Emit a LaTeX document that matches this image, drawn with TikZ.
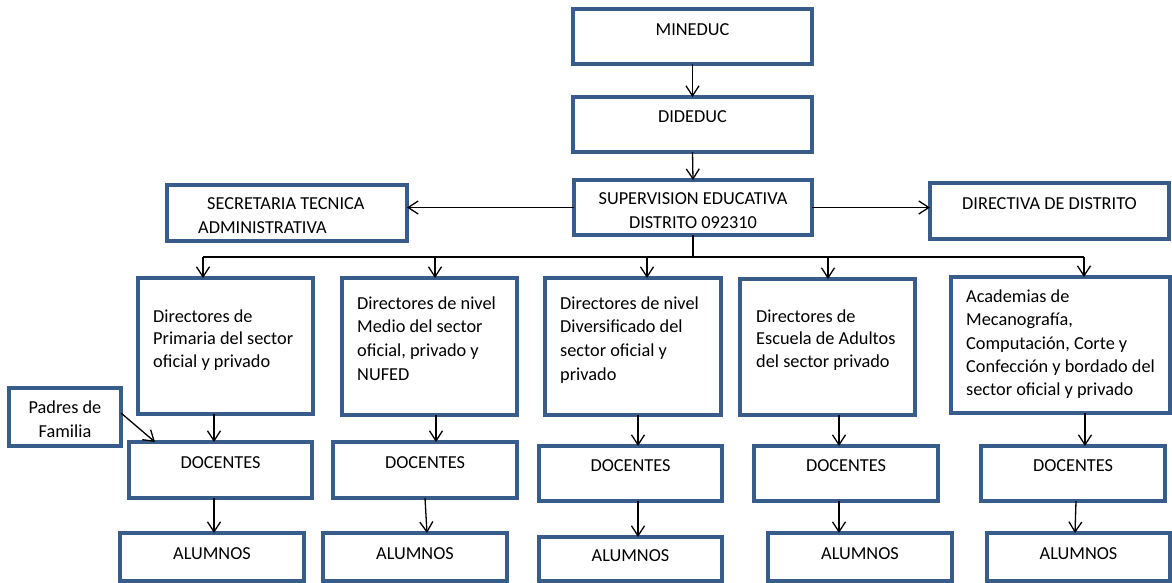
\documentclass[tikz,border=0pt]{standalone}
\usepackage{fontspec}
\setmainfont{Carlito}
\usetikzlibrary{arrows.meta}
\definecolor{boxblue}{RGB}{56,93,138}
\newcommand\mkbox[5]{\node[box,anchor=north west,minimum width={(#4)-(#2)},minimum height={(#5)-(#3)}] (#1) at (#2,#3) {};}
\begin{document}
\begin{tikzpicture}[x=1pt,y=-1pt,
  box/.style={draw=boxblue, line width=3.2pt, fill=white, inner sep=0pt, outer sep=0pt},
  txt/.style={inner sep=0pt, font=\fontsize{18.3}{23.3}\selectfont},
  arr/.style={draw=black, line width=1.3pt, -{Straight Barb[length=10pt,width=13pt]}},
  conn/.style={draw=black, line width=1.3pt}]
\useasboundingbox[fill=white] (0,0) rectangle (1172,582);

% boxes
\mkbox{mineduc}{573}{9}{812}{64}
\mkbox{dideduc}{573}{97}{812}{152}
\mkbox{sup}{574}{180}{812}{235}
\mkbox{sec}{167}{185}{407}{241}
\mkbox{dir}{930}{183}{1169}{239}
\mkbox{b1}{138}{278}{313}{414}
\mkbox{b2}{342}{278}{517}{415}
\mkbox{b3}{545}{278}{721}{415}
\mkbox{b4}{740}{279}{915}{415}
\mkbox{b5}{951}{277}{1170}{413}
\mkbox{padres}{9}{388}{121}{446}
\mkbox{doc1}{129}{442}{312}{498}
\mkbox{doc2}{333}{442}{517}{498}
\mkbox{doc3}{539}{446}{722}{501}
\mkbox{doc4}{754}{446}{938}{501}
\mkbox{doc5}{981}{446}{1165}{501}
\mkbox{alu1}{120}{533}{304}{581}
\mkbox{alu2}{323}{533}{507}{581}
\mkbox{alu3}{539}{537}{722}{581}
\mkbox{alu4}{768}{533}{952}{581}
\mkbox{alu5}{987}{533}{1170}{581}

% texts
\node[txt,anchor=base] (t-min) at (692.5,35) {MINEDUC};
\node[txt,anchor=base] (t-did) at (692.5,122) {DIDEDUC};
\node[txt,anchor=base] (t-sup1) at (693,204) {SUPERVISION EDUCATIVA};
\node[txt,anchor=base] (t-sup2) at (693,228) {DISTRITO 092310};
\node[txt,anchor=base west] (t-sec1) at (207,209) {SECRETARIA TECNICA};
\node[txt,anchor=base west] (t-sec2) at (198,233) {ADMINISTRATIVA};
\node[txt,anchor=base] (t-dir) at (1049.5,209) {DIRECTIVA DE DISTRITO};

\node[txt,anchor=base west] (t-b1a) at (153,322) {Directores de};
\node[txt,anchor=base west] (t-b1b) at (153,344) {Primaria del sector};
\node[txt,anchor=base west] (t-b1c) at (153,367) {oficial y privado};

\node[txt,anchor=base west] (t-b2a) at (357,309) {Directores de nivel};
\node[txt,anchor=base west] (t-b2b) at (357,332) {Medio del sector};
\node[txt,anchor=base west] (t-b2c) at (357,356) {oficial, privado y};
\node[txt,anchor=base west] (t-b2d) at (357,380) {NUFED};

\node[txt,anchor=base west] (t-b3a) at (560,309) {Directores de nivel};
\node[txt,anchor=base west] (t-b3b) at (560,332) {Diversificado del};
\node[txt,anchor=base west] (t-b3c) at (560,356) {sector oficial y};
\node[txt,anchor=base west] (t-b3d) at (560,380) {privado};

\node[txt,anchor=base west] (t-b4a) at (756,322) {Directores de};
\node[txt,anchor=base west] (t-b4b) at (756,344) {Escuela de Adultos};
\node[txt,anchor=base west] (t-b4c) at (756,367) {del sector privado};

\node[txt,anchor=base west] (t-b5a) at (966,302) {Academias de};
\node[txt,anchor=base west] (t-b5b) at (966,325) {Mecanografía,};
\node[txt,anchor=base west] (t-b5c) at (966,349) {Computación, Corte y};
\node[txt,anchor=base west] (t-b5d) at (966,372) {Confección y bordado del};
\node[txt,anchor=base west] (t-b5e) at (966,395) {sector oficial y privado};

\node[txt,anchor=base] (t-pa1) at (65,413) {Padres de};
\node[txt,anchor=base] (t-pa2) at (65,437) {Familia};

\node[txt,anchor=base] (t-d1) at (doc1.north |- 0,468) {DOCENTES};
\node[txt,anchor=base] (t-d2) at (doc2.north |- 0,468) {DOCENTES};
\node[txt,anchor=base] (t-d3) at (doc3.north |- 0,471) {DOCENTES};
\node[txt,anchor=base] (t-d4) at (doc4.north |- 0,471) {DOCENTES};
\node[txt,anchor=base] (t-d5) at (doc5.north |- 0,471) {DOCENTES};

\node[txt,anchor=base] (t-a1) at (alu1.north |- 0,559) {ALUMNOS};
\node[txt,anchor=base] (t-a2) at (alu2.north |- 0,559) {ALUMNOS};
\node[txt,anchor=base] (t-a3) at (alu3.north |- 0,561) {ALUMNOS};
\node[txt,anchor=base] (t-a4) at (alu4.north |- 0,559) {ALUMNOS};
\node[txt,anchor=base] (t-a5) at (alu5.north |- 0,559) {ALUMNOS};

% connectors
\draw[arr] (mineduc.south) -- (dideduc.north);
\draw[arr] (dideduc.south) -- (sup.north);
\draw[arr] (sup.west) -- (sup.west -| sec.east);
\draw[arr] (sup.east) -- (sup.east -| dir.west);

\coordinate (busL) at (203,257);
\coordinate (busR) at (1084,257);
\coordinate (tap2) at (435,257);
\coordinate (tap3) at (647,257);
\coordinate (tap4) at (828,257);
\draw[conn] (sup.south) -- (sup.south |- busL);
\draw[conn] (busL) -- (busR);
\draw[arr] (busL) -- (busL |- b1.north);
\draw[arr] (tap2) -- (tap2 |- b2.north);
\draw[arr] (tap3) -- (tap3 |- b3.north);
\draw[arr] (tap4) -- (tap4 |- b4.north);
\draw[arr] (busR) -- (busR |- b5.north);

\draw[arr] (b1.south -| 214,0) -- (doc1.north -| 214,0);
\draw[arr] (b2.south -| 436,0) -- (doc2.north -| 436,0);
\draw[arr] (b3.south -| 638,0) -- (doc3.north -| 638,0);
\draw[arr] (b4.south -| 839,0) -- (doc4.north -| 839,0);
\draw[arr] (b5.south -| 1085,0) -- (doc5.north -| 1085,0);

\draw[arr] (doc1.south -| 214,0) -- (alu1.north -| 214,0);
\draw[arr] (doc2.south -| 425,0) -- (alu2.north -| 427,0);
\draw[arr] (doc3.south -| 638,0) -- (alu3.north -| 638,0);
\draw[arr] (doc4.south -| 839,0) -- (alu4.north -| 839,0);
\draw[arr] (doc5.south -| 1076,0) -- (alu5.north -| 1075,0);

\draw[arr] (padres.east |- 0,413) -- ([xshift=26pt]doc1.north west);
\end{tikzpicture}
\end{document}
